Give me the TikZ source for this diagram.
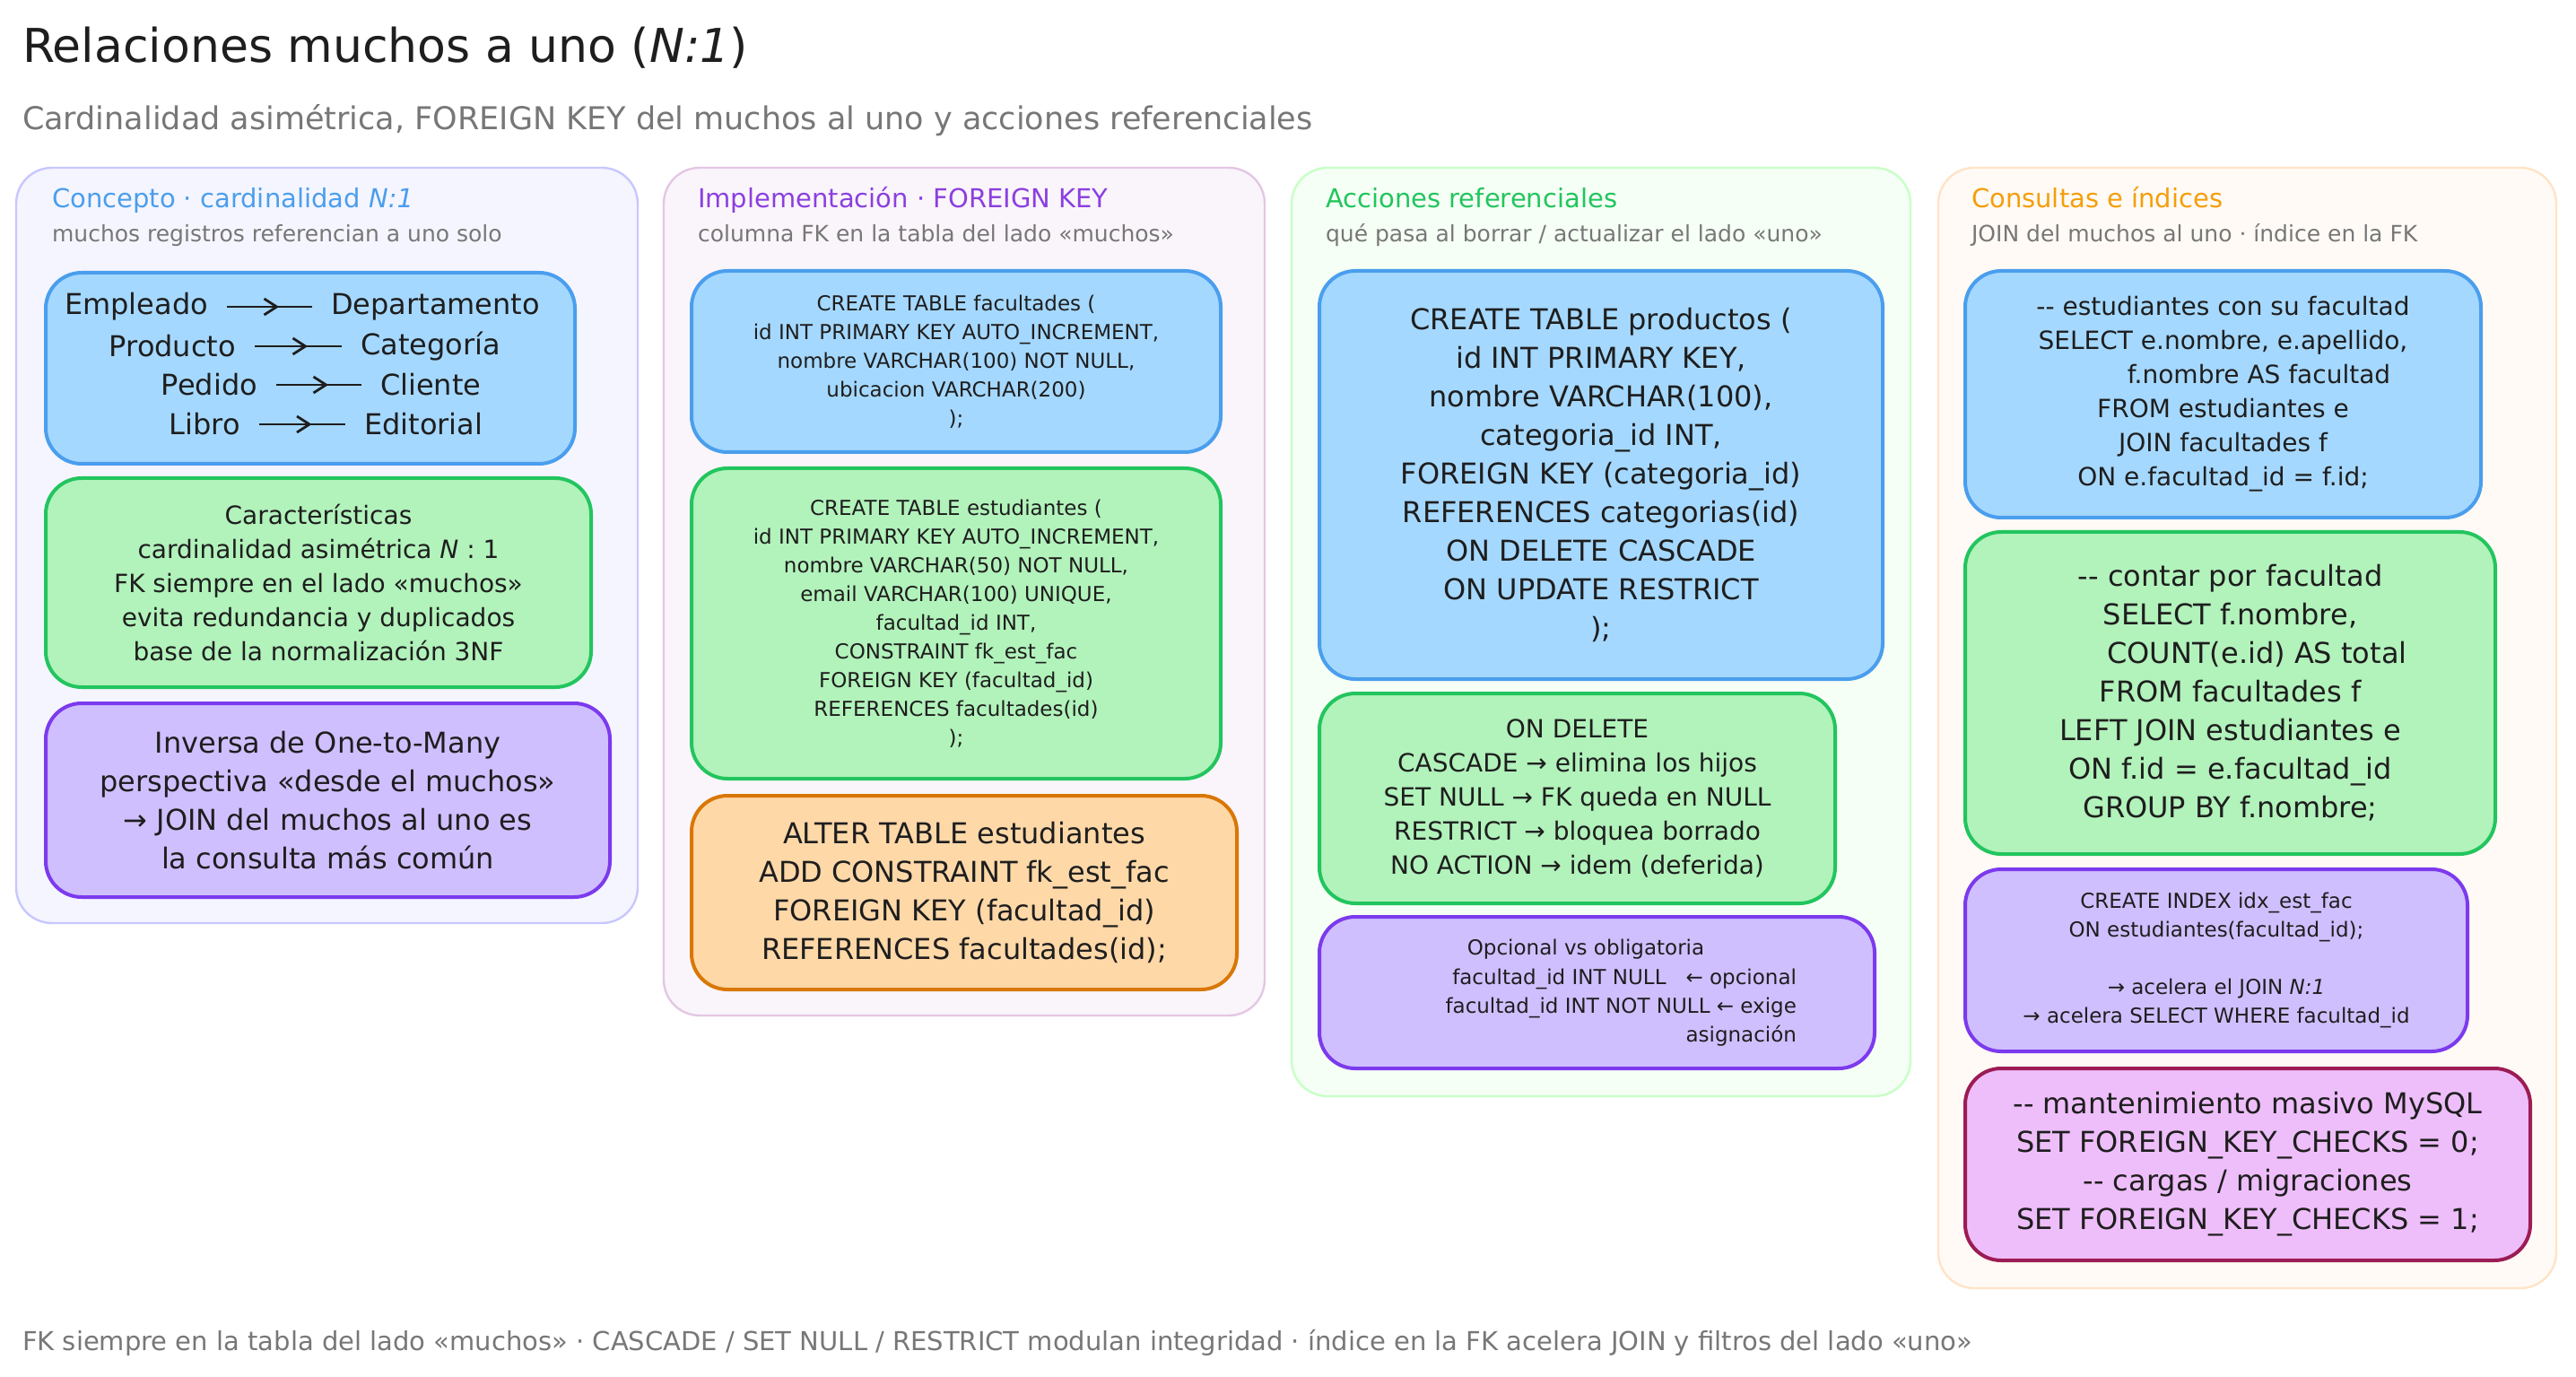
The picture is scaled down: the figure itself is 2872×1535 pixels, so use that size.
\documentclass[tikz,border=0pt]{standalone}
\usepackage{fontspec}
\setmainfont{DejaVu Sans}
\definecolor{bS}{HTML}{4A9EED}\definecolor{bF}{HTML}{A5D8FF}
\definecolor{gS}{HTML}{22C55E}\definecolor{gF}{HTML}{B2F2BB}
\definecolor{pS}{HTML}{7C3AED}\definecolor{pF}{HTML}{D0BFFF}
\definecolor{oS}{HTML}{D97706}\definecolor{oF}{HTML}{FFD8A8}
\definecolor{mS}{HTML}{9C1C55}\definecolor{mF}{HTML}{EEBEFA}
\definecolor{txt}{HTML}{1E1E1E}\definecolor{gry}{HTML}{777777}
\definecolor{h1}{HTML}{4A9EED}\definecolor{h2}{HTML}{8B3FE0}\definecolor{h3}{HTML}{22C55E}\definecolor{h4}{HTML}{F59E0B}
\tikzset{
 colbox/.style={draw=#1!22, fill=#1!4, line width=1.2pt, rounded corners=20pt},
 inbox/.style 2 args={draw=#1, fill=#2, line width=2pt, rounded corners=20pt, text=txt, align=center, inner sep=0pt},
 fa/.style={font=\fontsize{11.5}{16}\selectfont},
 fb/.style={font=\fontsize{14}{19}\selectfont},
 fc/.style={font=\fontsize{16}{21.5}\selectfont},
 hd/.style={anchor=base west, font=\fontsize{14.5}{17}\selectfont},
 sh/.style={anchor=base west, text=gry, font=\fontsize{12.5}{14}\selectfont},
}
\newcommand{\dd}{{-}{-}}
\newcommand{\bx}[7]{\node[inbox={#2}{#3}, minimum width={(#6-#4)*0.5pt}, minimum height={(#7-#5)*0.5pt}] (#1) at ({(#4+#6)/2},{(#5+#7)/2}) {};}
\newcommand{\cl}[6]{\node[colbox=#2, minimum width={(#5-#3)*0.5pt}, minimum height={(#6-#4)*0.5pt}] (#1) at ({(#3+#5)/2},{(#4+#6)/2}) {};}
\begin{document}
\begin{tikzpicture}[x=0.5pt,y=-0.5pt]
\useasboundingbox[fill=white] (0,0) rectangle (2872,1535);
\node[anchor=base west, text=txt, font=\fontsize{26}{30}\selectfont] (title) at (18,70) {Relaciones muchos a uno ({\itshape N:1})};
\node[anchor=base west, text=gry, font=\fontsize{17.5}{20}\selectfont] (sub) at (18,145) {Cardinalidad asimétrica, FOREIGN KEY del muchos al uno y acciones referenciales};
% columns
\cl{c1}{blue}{18}{187}{711}{1029}
\cl{c2}{violet}{740}{187}{1410}{1132}
\cl{c3}{green}{1440}{187}{2130}{1222}
\cl{c4}{orange}{2161}{187}{2850}{1436}
\node[hd, text=h1] (h1) at (51,232) {Concepto · cardinalidad {\itshape N:1}};
\node[sh] (s1) at (51,270) {muchos registros referencian a uno solo};
\node[hd, text=h2] (h2) at (771,232) {Implementación · FOREIGN KEY};
\node[sh] (s2) at (771,270) {columna FK en la tabla del lado «muchos»};
\node[hd, text=h3] (h3) at (1471,232) {Acciones referenciales};
\node[sh] (s3) at (1471,270) {qué pasa al borrar / actualizar el lado «uno»};
\node[hd, text=h4] (h4) at (2191,232) {Consultas e índices};
\node[sh] (s4) at (2191,270) {JOIN del muchos al uno · índice en la FK};
% column 1
\bx{b11}{bS}{bF}{51}{304}{641}{517}
\foreach \y/\l/\r/\a/\b in {342/Empleado/Departamento/253/348, 386/Producto/Categoría/284/381, 429/Pedido/Cliente/308/403, 473/Libro/Editorial/289/385}{
  \node[fc, anchor=east, text=txt] (L\y) at (\a-14,\y) {\l};
  \node[fc, anchor=west, text=txt] (R\y) at (\b+14,\y) {\r};
  \coordinate (A\y) at (\a,\y); \coordinate (B\y) at (\b,\y);
  \draw[line width=1.4pt, txt] (A\y) -- (B\y);
  \draw[line width=1.4pt, txt] ({(\a+\b)/2-6},{\y-9}) -- ({(\a+\b)/2+8},\y) -- ({(\a+\b)/2-6},{\y+9});
}
\bx{b12}{gS}{gF}{51}{533}{659}{766}
\node[fb, align=center, text=txt] (t12) at (b12) {Características\\cardinalidad asimétrica {\itshape N} : 1\\FK siempre en el lado «muchos»\\evita redundancia y duplicados\\base de la normalización 3NF};
\bx{b13}{pS}{pF}{51}{784}{680}{1000}
\node[fc, align=center, text=txt] (t13) at (b13) {Inversa de One-to-Many\\perspectiva «desde el muchos»\\→ JOIN del muchos al uno es\\la consulta más común};
% column 2
\bx{b21}{bS}{bF}{771}{302}{1361}{504}
\node[fa, align=center, text=txt] (t21) at (b21) {CREATE TABLE facultades (\\id INT PRIMARY KEY AUTO\_INCREMENT,\\nombre VARCHAR(100) NOT NULL,\\ubicacion VARCHAR(200)\\);};
\bx{b22}{gS}{gF}{771}{522}{1361}{868}
\node[fa, align=center, text=txt] (t22) at (b22) {CREATE TABLE estudiantes (\\id INT PRIMARY KEY AUTO\_INCREMENT,\\nombre VARCHAR(50) NOT NULL,\\email VARCHAR(100) UNIQUE,\\facultad\_id INT,\\CONSTRAINT fk\_est\_fac\\FOREIGN KEY (facultad\_id)\\REFERENCES facultades(id)\\);};
\bx{b23}{oS}{oF}{771}{887}{1379}{1103}
\node[fc, align=center, text=txt] (t23) at (b23) {ALTER TABLE estudiantes\\ADD CONSTRAINT fk\_est\_fac\\FOREIGN KEY (facultad\_id)\\REFERENCES facultades(id);};
% column 3
\bx{b31}{bS}{bF}{1471}{302}{2099}{757}
\node[fc, align=center, text=txt] (t31) at (b31) {CREATE TABLE productos (\\id INT PRIMARY KEY,\\nombre VARCHAR(100),\\categoria\_id INT,\\FOREIGN KEY (categoria\_id)\\REFERENCES categorias(id)\\ON DELETE CASCADE\\ON UPDATE RESTRICT\\);};
\bx{b32}{gS}{gF}{1471}{773}{2046}{1007}
\node[fb, align=center, text=txt] (t32) at (b32) {ON DELETE\\CASCADE → elimina los hijos\\SET NULL → FK queda en NULL\\RESTRICT → bloquea borrado\\NO ACTION → idem (deferida)};
\bx{b33}{pS}{pF}{1471}{1022}{2090}{1191}
\node[fa, text=txt] (t33a) at (1768,1058) {Opcional vs obligatoria};
\node[fa, align=right, text=txt, anchor=north east] (t33) at (2010,1073) {facultad\_id INT NULL \ \ ← opcional\\facultad\_id INT NOT NULL ← exige\\asignación};
% column 4
\bx{b41}{bS}{bF}{2191}{302}{2766}{577}
\node[fb, align=center, text=txt] (t41) at (b41) {\dd{} estudiantes con su facultad\\SELECT e.nombre, e.apellido,\\\hspace{40pt}f.nombre AS facultad\\FROM estudiantes e\\JOIN facultades f\\ON e.facultad\_id = f.id;};
\bx{b42}{gS}{gF}{2191}{593}{2782}{952}
\node[fc, align=center, text=txt] (t42) at (b42) {\dd{} contar por facultad\\SELECT f.nombre,\\\hspace{30pt}COUNT(e.id) AS total\\FROM facultades f\\LEFT JOIN estudiantes e\\ON f.id = e.facultad\_id\\GROUP BY f.nombre;};
\bx{b43}{pS}{pF}{2191}{969}{2751}{1172}
\node[fa, align=center, text=txt] (t43) at (b43) {CREATE INDEX idx\_est\_fac\\ON estudiantes(facultad\_id);\\[16pt]→ acelera el JOIN {\itshape N:1}\\→ acelera SELECT WHERE facultad\_id};
\bx{b44}{mS}{mF}{2191}{1191}{2821}{1405}
\node[fc, align=center, text=txt] (t44) at (b44) {\dd{} mantenimiento masivo MySQL\\SET FOREIGN\_KEY\_CHECKS = 0;\\\dd{} cargas / migraciones\\SET FOREIGN\_KEY\_CHECKS = 1;};
\node[anchor=base west, text=gry, font=\fontsize{14.5}{17}\selectfont] (foot) at (18,1505) {FK siempre en la tabla del lado «muchos» · CASCADE / SET NULL / RESTRICT modulan integridad · índice en la FK acelera JOIN y filtros del lado «uno»};
\end{tikzpicture}
\end{document}
